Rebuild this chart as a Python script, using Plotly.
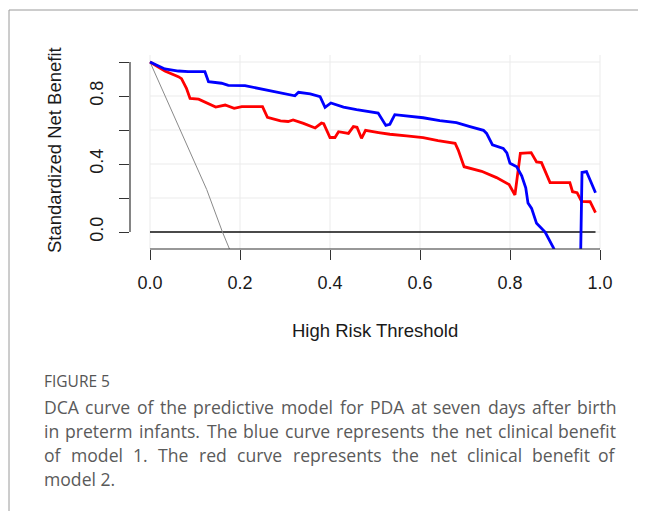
import plotly.graph_objects as go

# ---------------- data ----------------
blue_x = [0.000, 0.033, 0.063, 0.085, 0.122, 0.130, 0.159, 0.174, 0.211, 0.241, 0.270, 0.300,
          0.322, 0.330, 0.356, 0.378, 0.389, 0.402, 0.430, 0.459, 0.489, 0.507, 0.524, 0.533,
          0.544, 0.570, 0.607, 0.644, 0.681, 0.711, 0.741, 0.748, 0.761, 0.785, 0.793, 0.800,
          0.815, 0.826, 0.835, 0.840, 0.848, 0.859, 0.878, 0.896, 0.920, 0.955, 0.960, 0.970,
          0.978, 0.990]
blue_y = [1.000, 0.959, 0.947, 0.943, 0.943, 0.884, 0.875, 0.863, 0.861, 0.845, 0.829, 0.812,
          0.801, 0.822, 0.812, 0.796, 0.733, 0.759, 0.735, 0.720, 0.710, 0.700, 0.627, 0.634,
          0.690, 0.684, 0.672, 0.655, 0.643, 0.620, 0.598, 0.580, 0.512, 0.492, 0.465, 0.404,
          0.384, 0.330, 0.260, 0.170, 0.139, 0.051, 0.000, -0.090, -0.220, -0.450, 0.350, 0.355,
          0.306, 0.231]

red_x = [0.000, 0.033, 0.063, 0.070, 0.081, 0.089, 0.108, 0.146, 0.167, 0.187, 0.204, 0.250,
         0.261, 0.290, 0.307, 0.318, 0.341, 0.367, 0.381, 0.386, 0.400, 0.411, 0.419, 0.441,
         0.452, 0.460, 0.470, 0.479, 0.508, 0.533, 0.570, 0.607, 0.640, 0.678, 0.685, 0.698,
         0.737, 0.770, 0.798, 0.805, 0.811, 0.823, 0.847, 0.859, 0.870, 0.889, 0.933, 0.939,
         0.949, 0.959, 0.978, 0.990]
red_y = [1.000, 0.947, 0.914, 0.902, 0.845, 0.786, 0.781, 0.735, 0.747, 0.727, 0.737, 0.737,
         0.674, 0.654, 0.650, 0.659, 0.639, 0.612, 0.641, 0.637, 0.556, 0.556, 0.590, 0.580,
         0.620, 0.616, 0.551, 0.598, 0.585, 0.575, 0.565, 0.555, 0.538, 0.522, 0.482, 0.384,
         0.357, 0.320, 0.279, 0.245, 0.218, 0.463, 0.467, 0.412, 0.408, 0.291, 0.291, 0.237,
         0.231, 0.180, 0.178, 0.114]

all_x = [0.000, 0.052, 0.089, 0.126, 0.161, 0.178, 0.200]
all_y = [1.000, 0.690, 0.480, 0.250, 0.000, -0.100, -0.250]

none_x = [0.0, 0.99]
none_y = [0.0, 0.0]

x_ticks = [0.0, 0.2, 0.4, 0.6, 0.8, 1.0]
x_ticktext = ["0.0", "0.2", "0.4", "0.6", "0.8", "1.0"]
y_ticks = [0.0, 0.2, 0.4, 0.6, 0.8, 1.0]
y_ticktext = ["0.0", "", "0.4", "", "0.8", ""]

x_title = "High Risk Threshold"
y_title = "Standardized Net Benefit"
fig_label = "FIGURE 5"
caption_lines = [
    "DCA curve of the predictive model for PDA at seven days after birth",
    "in preterm infants. The blue curve represents the net clinical benefit",
    "of model 1. The red curve represents the net clinical benefit of",
    "model 2.",
]

# ---------------- layout geometry ----------------
OFF = 8                      # page body margin of the html page
W, H = 646 - OFF, 511 - OFF
L, R, T, B = 130 - OFF, 28, 55 - OFF, 262
PW, PH = W - L - R, H - T - B


def px(x):
    """reference-screenshot x pixel -> paper coordinate"""
    return (x - OFF - L) / PW


def py(y):
    """reference-screenshot y pixel -> paper coordinate"""
    return (H - B - (y - OFF)) / PH


# approximate Open Sans advance widths (units per em = 2048), used to justify the caption
ADV = {"a": 1139, "b": 1255, "c": 975, "d": 1255, "e": 1149, "f": 694, "g": 1122, "h": 1257,
       "i": 518, "j": 518, "k": 1075, "l": 518, "m": 1905, "n": 1257, "o": 1237, "p": 1255,
       "q": 1255, "r": 836, "s": 977, "t": 723, "u": 1257, "v": 1026, "w": 1593, "x": 1073,
       "y": 1028, "z": 959, "A": 1296, "C": 1292, "D": 1479, "P": 1235, "T": 1147,
       "1": 1171, "2": 1171, ".": 545}
CAP_SIZE = 17.6
CAP_LEFT, CAP_RIGHT = 43, 617
WIDTH_FUDGE = 1.016


def word_w(w):
    return sum(ADV.get(c, 1150) for c in w) / 2048 * CAP_SIZE * WIDTH_FUDGE


fig = go.Figure()
fig.add_trace(go.Scatter(x=none_x, y=none_y, mode="lines",
                         line=dict(color="#111111", width=1.4), hoverinfo="skip"))
fig.add_trace(go.Scatter(x=all_x, y=all_y, mode="lines",
                         line=dict(color="#8a8a8a", width=1), hoverinfo="skip"))
fig.add_trace(go.Scatter(x=red_x, y=red_y, mode="lines",
                         line=dict(color="#ff0000", width=2.8), hoverinfo="skip"))
fig.add_trace(go.Scatter(x=blue_x, y=blue_y, mode="lines",
                         line=dict(color="#0000ff", width=2.8), hoverinfo="skip"))

shapes = []
grid_col = "#ebebeb"
for v in x_ticks:
    shapes.append(dict(type="line", xref="x", yref="paper", x0=v, x1=v, y0=0, y1=1,
                       line=dict(color=grid_col, width=1), layer="below"))
for v in y_ticks:
    shapes.append(dict(type="line", xref="x", yref="y", x0=0, x1=1, y0=v, y1=v,
                       line=dict(color=grid_col, width=1), layer="below"))
# R style axis lines
shapes.append(dict(type="line", xref="paper", yref="y", x0=0, x1=0, y0=0, y1=1,
                   line=dict(color="#333333", width=1.2)))
shapes.append(dict(type="line", xref="x", yref="paper", x0=0, x1=1, y0=0, y1=0,
                   line=dict(color="#333333", width=1.2)))
# frame of the figure panel
shapes.append(dict(type="line", xref="paper", yref="paper", x0=px(9), x1=px(646), y0=py(10), y1=py(10),
                   line=dict(color="#9a9a9a", width=1)))
shapes.append(dict(type="line", xref="paper", yref="paper", x0=px(9), x1=px(9), y0=py(10), y1=py(511),
                   line=dict(color="#9a9a9a", width=1)))

annotations = [
    dict(text=x_title, xref="paper", yref="paper", x=px(375), y=py(330), showarrow=False,
         xanchor="center", yanchor="middle", font=dict(family="Liberation Sans", size=18.5, color="#1a1a1a")),
    dict(text=y_title, xref="paper", yref="paper", x=px(54), y=py(150), showarrow=False,
         textangle=-90, xanchor="center", yanchor="middle",
         font=dict(family="Liberation Sans", size=18.5, color="#1a1a1a")),
    dict(text=fig_label, xref="paper", yref="paper", x=px(42), y=py(381), showarrow=False,
         xanchor="left", yanchor="middle", font=dict(family="Open Sans", size=15.5, color="#555555")),
]

cap_font = dict(family="Open Sans", size=CAP_SIZE, color="#5a5a5a")
for i, line in enumerate(caption_lines):
    yy = py(407 + 24 * i)
    words = line.split()
    if i == len(caption_lines) - 1 or len(words) < 2:
        annotations.append(dict(text=line, xref="paper", yref="paper", x=px(CAP_LEFT - 1), y=yy,
                                showarrow=False, xanchor="left", yanchor="middle", font=cap_font))
        continue
    widths = [word_w(w) for w in words]
    gap = (CAP_RIGHT - CAP_LEFT - sum(widths)) / (len(words) - 1)
    xpos = CAP_LEFT
    for j, w in enumerate(words):
        if j == len(words) - 1:
            annotations.append(dict(text=w, xref="paper", yref="paper", x=px(CAP_RIGHT + 1), y=yy,
                                    showarrow=False, xanchor="right", yanchor="middle", font=cap_font))
        else:
            annotations.append(dict(text=w, xref="paper", yref="paper", x=px(xpos - 1), y=yy,
                                    showarrow=False, xanchor="left", yanchor="middle", font=cap_font))
        xpos += widths[j] + gap

fig.update_layout(
    width=W, height=H,
    margin=dict(l=L, r=R, t=T, b=B, pad=0),
    paper_bgcolor="white", plot_bgcolor="white",
    showlegend=False,
    shapes=shapes,
    annotations=annotations,
    xaxis=dict(range=[-20 / 450, (PW - 20) / 450], tickvals=x_ticks, ticktext=x_ticktext,
               ticks="outside", ticklen=10, tickwidth=1.2, tickcolor="#333333",
               showgrid=False, zeroline=False, showline=False,
               tickfont=dict(family="Liberation Sans", size=18, color="#1a1a1a"),
               ticklabelstandoff=7),
    yaxis=dict(range=[-0.1, -0.1 + PH / 170], tickvals=y_ticks, ticktext=y_ticktext,
               ticks="outside", ticklen=10, tickwidth=1.2, tickcolor="#333333",
               showgrid=False, zeroline=False, showline=False, tickangle=-90,
               tickfont=dict(family="Liberation Sans", size=18, color="#1a1a1a"),
               ticklabelstandoff=9),
)

fig.write_html("out.html")
